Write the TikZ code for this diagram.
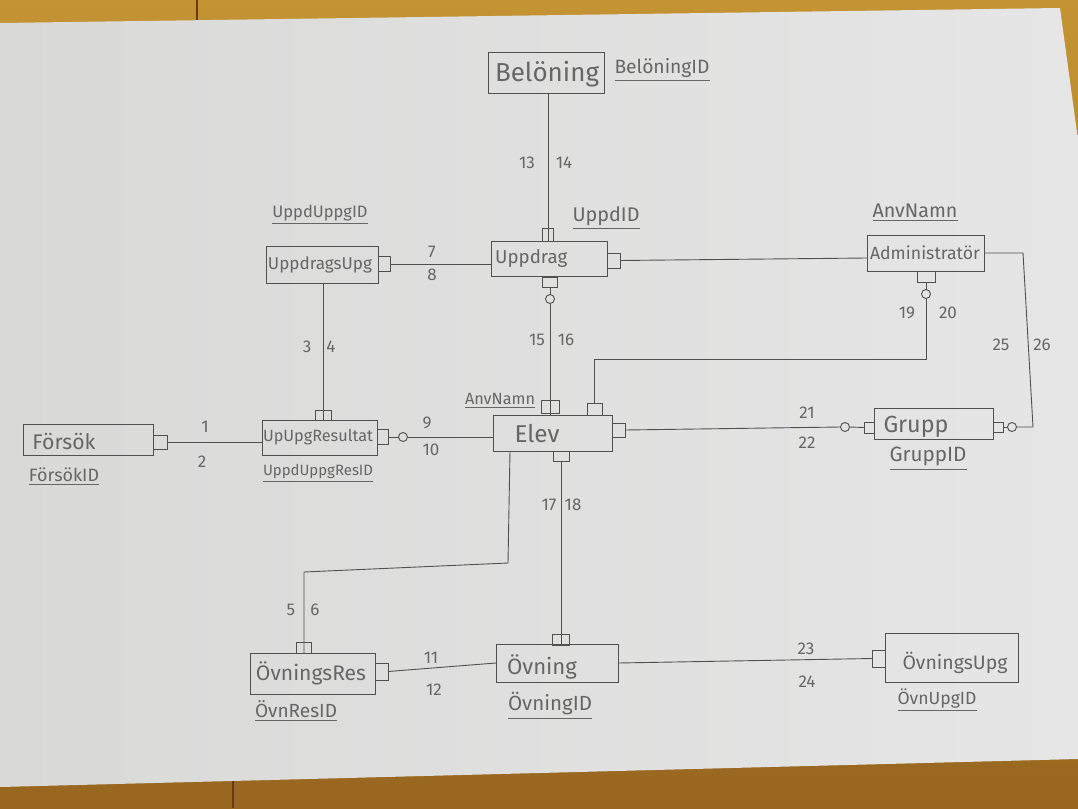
\documentclass[tikz,border=0pt]{standalone}
\usepackage{fontspec}
\setmainfont{Fira Sans}
\usepackage{graphicx}
\definecolor{pencil}{HTML}{505050}
\definecolor{ink}{HTML}{666666}
\definecolor{woodT}{HTML}{C49433}
\definecolor{woodB}{HTML}{98661F}
\definecolor{woodline}{HTML}{6A3A10}
\definecolor{paperL}{HTML}{D9D9D8}
\definecolor{paperR}{HTML}{E6E6E6}
\newcommand{\fw}[2]{\resizebox{#1}{!}{#2}}
\begin{document}
\begin{tikzpicture}[x=1pt,y=-1pt,
  ent/.style={draw=pencil, line width=1pt, rectangle, inner sep=0pt, outer sep=0pt},
  keysq/.style={draw=pencil, line width=0.9pt, rectangle, inner sep=0pt, outer sep=0pt},
  circ/.style={draw=pencil, line width=0.9pt, circle, inner sep=0pt, outer sep=0pt, minimum size=9pt},
  conn/.style={draw=pencil, line width=0.9pt},
  txt/.style={text=ink, inner sep=0pt},
  num/.style={text=ink, inner sep=0pt, font=\fontsize{17}{17}\selectfont},
]
\useasboundingbox (0,0) rectangle (1078,808);
% table and paper
\shade[top color=woodT, bottom color=woodB] (0,0) rectangle (1078,808);
\draw[woodline, line width=1.2pt] (197,0) -- (197,20);
\draw[woodline, line width=1.2pt] (233,781) -- (233,808);
\shade[left color=paperL, right color=paperR] (0,23) -- (1060,8) -- (1078,140) -- (1078,759) -- (0,787) -- cycle;

% entities
\node[ent, minimum width=116pt, minimum height=40pt] (belon) at (546,73) {};
\node[ent, minimum width=116pt, minimum height=35pt] (uppdrag) at (549,258.5) {};
\node[ent, minimum width=112pt, minimum height=37pt] (uupg) at (322,264.5) {};
\node[ent, minimum width=117pt, minimum height=36pt] (admin) at (925.5,253) {};
\node[ent, minimum width=119pt, minimum height=36pt] (elev) at (552.5,433) {};
\node[ent, minimum width=119pt, minimum height=31pt] (grupp) at (933.5,423.5) {};
\node[ent, minimum width=130pt, minimum height=31pt] (forsok) at (88,439.5) {};
\node[ent, minimum width=115pt, minimum height=35pt] (upres) at (319.5,437.5) {};
\node[ent, minimum width=125pt, minimum height=41pt] (ovres) at (312.5,673.5) {};
\node[ent, minimum width=122pt, minimum height=38pt] (ovning) at (557,663) {};
\node[ent, minimum width=133pt, minimum height=49pt] (ovupg) at (951.5,657.5) {};

% entity names
\node[txt] (tbelon) at (547,74) {\fw{104pt}{Belöning}};
\node[txt, anchor=west] (tuppdrag) at (495,258) {\fw{72pt}{Uppdrag}};
\node[txt] (tuupg) at (320,265) {\fw{104pt}{UppdragsUpg}};
\node[txt] (tadmin) at (925,253) {\fw{110pt}{Administratör}};
\node[txt] (telev) at (537,434) {\fw{45pt}{Elev}};
\node[txt] (tgrupp) at (916,427) {\fw{65pt}{Grupp}};
\node[txt] (tforsok) at (64,441) {\fw{63pt}{Försök}};
\node[txt] (tupres) at (318,437) {\fw{110pt}{UpUpgResultat}};
\node[txt] (tovres) at (311,673) {\fw{110pt}{ÖvningsRes}};
\node[txt] (tovning) at (542,667) {\fw{70pt}{Övning}};
\node[txt] (tovupg) at (955,663) {\fw{105pt}{ÖvningsUpg}};

% key labels
\node[txt] (kbelon) at (662,70) {\fw{95pt}{\underline{BelöningID}}};
\node[txt] (kuppdrag) at (606,218) {\fw{67pt}{\underline{UppdID}}};
\node[txt] (kuupg) at (320,215) {\fw{95pt}{\underline{UppdUppgID}}};
\node[txt] (kadmin) at (915,213) {\fw{85pt}{\underline{AnvNamn}}};
\node[txt] (kelev) at (500,401) {\fw{70pt}{\underline{AnvNamn}}};
\node[txt] (kgrupp) at (928,459) {\fw{77pt}{\underline{GruppID}}};
\node[txt] (kforsok) at (64,477) {\fw{70pt}{\underline{FörsökID}}};
\node[txt] (kupres) at (318,473) {\fw{110pt}{\underline{UppdUppgResID}}};
\node[txt] (kovres) at (296,711) {\fw{82pt}{\underline{ÖvnResID}}};
\node[txt] (kovning) at (550,706) {\fw{84pt}{\underline{ÖvningID}}};
\node[txt] (kovupg) at (937,700) {\fw{79pt}{\underline{ÖvnUpgID}}};

% key squares
\node[keysq, minimum width=11pt, minimum height=13pt] (kU1) at (548,234.5) {};
\node[keysq, minimum width=15pt, minimum height=10pt] (kU2) at (550,282) {};
\node[keysq, minimum width=13pt, minimum height=15pt] (kU3) at (613.5,260.5) {};
\node[keysq, minimum width=12pt, minimum height=15pt] (kUU) at (384,264) {};
\node[keysq, minimum width=16pt, minimum height=10pt] (kR1) at (323,415) {};
\node[keysq, minimum width=11pt, minimum height=15pt] (kR2) at (382.5,437) {};
\node[keysq, minimum width=14pt, minimum height=14pt] (kF) at (160,442) {};
\node[keysq, minimum width=18pt, minimum height=13pt] (kE1) at (550,406.5) {};
\node[keysq, minimum width=15pt, minimum height=12pt] (kE2) at (594.5,409) {};
\node[keysq, minimum width=13pt, minimum height=14pt] (kE3) at (618.5,430) {};
\node[keysq, minimum width=16pt, minimum height=10pt] (kE4) at (561,456) {};
\node[keysq, minimum width=18pt, minimum height=11pt] (kA) at (926,276.5) {};
\node[keysq, minimum width=10pt, minimum height=11pt] (kG1) at (869,427.5) {};
\node[keysq, minimum width=10pt, minimum height=10pt] (kG2) at (998,427) {};
\node[keysq, minimum width=15pt, minimum height=11pt] (kOR1) at (304,647.5) {};
\node[keysq, minimum width=13pt, minimum height=17pt] (kOR2) at (381.5,671.5) {};
\node[keysq, minimum width=17pt, minimum height=11pt] (kOv) at (561,639.5) {};
\node[keysq, minimum width=13pt, minimum height=17pt] (kOU) at (878.5,658.5) {};

% optional circles
\node[circ] (cU) at (550,299) {};
\node[circ] (cR) at (403,437) {};
\node[circ] (cG1) at (845,427) {};
\node[circ] (cG2) at (1012,427) {};
\node[circ] (cA) at (926,294) {};

% bend points
\coordinate (c2) at (926,359);
\coordinate (r1) at (1023,253);
\coordinate (r2) at (1033,427);
\coordinate (b1) at (508,563);
\coordinate (b2) at (304,572);

% connectors
\draw[conn] (belon.south -| kU1) -- (uppdrag.north -| kU1);
\draw[conn] (kU2.south) -- (cU.north);
\draw[conn] (cU.south) -- (elev.north -| cU);
\draw[conn] (kUU.east) -- (kUU.east -| uppdrag.west);
\draw[conn] (kU3.east) -- ([yshift=-5pt]admin.west);
\draw[conn] (uupg.south -| kR1) -- (upres.north -| kR1);
\draw[conn] (kF.east) -- (upres.west |- kF.east);
\draw[conn] (kR2.east) -- (cR.west);
\draw[conn] (cR.east) -- (cR.east -| elev.west);
\draw[conn] (kE3.east) -- (cG1.west);
\draw[conn] (cG1.east) -- (kG1.west);
\draw[conn] (kE2.north) |- (c2) -- (cA.south);
\draw[conn] (cA.north) -- (kA.south);
\draw[conn] (admin.east) -- (r1) -- (r2) -- (cG2.east);
\draw[conn] (cG2.west) -- (kG2.east);
\draw[conn] ([xshift=-42.5pt]elev.south) -- (b1) -- (b2) -- (ovres.north -| b2);
\draw[conn] (kE4.south) -- (ovning.north -| kE4);
\draw[conn] (kOR2.east) -- (ovning.west);
\draw[conn] (ovning.east) -- (kOU.west);

% cardinality numbers
\node[num] (n13) at (527,163) {13};
\node[num] (n14) at (564,163) {14};
\node[num] (n15) at (537,340) {15};
\node[num] (n16) at (566,340) {16};
\node[num] (n7) at (432,252) {7};
\node[num] (n8) at (432,275) {8};
\node[num] (n3) at (307,347) {3};
\node[num] (n4) at (331,347) {4};
\node[num] (n1) at (205,427) {1};
\node[num] (n2) at (202,462) {2};
\node[num] (n9) at (427,423) {9};
\node[num] (n10) at (431,450) {10};
\node[num] (n19) at (907,313) {19};
\node[num] (n20) at (948,313) {20};
\node[num] (n21) at (807,413) {21};
\node[num] (n22) at (807,443) {22};
\node[num] (n25) at (1001,345) {25};
\node[num] (n26) at (1042,345) {26};
\node[num] (n5) at (291,610) {5};
\node[num] (n6) at (315,610) {6};
\node[num] (n17) at (549,505) {17};
\node[num] (n18) at (573,505) {18};
\node[num] (n11) at (431,658) {11};
\node[num] (n12) at (434,690) {12};
\node[num] (n23) at (806,649) {23};
\node[num] (n24) at (807,682) {24};
\end{tikzpicture}
\end{document}
